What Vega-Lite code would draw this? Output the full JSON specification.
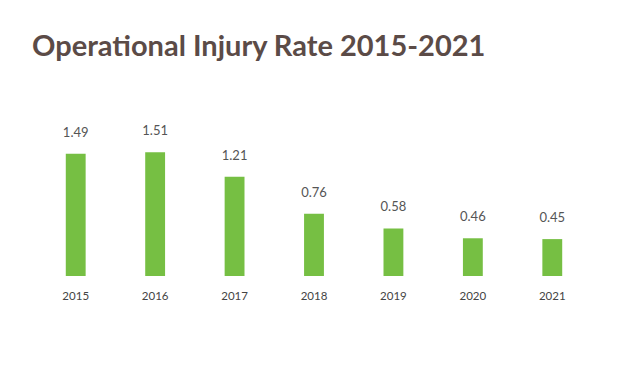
{
  "$schema": "https://vega.github.io/schema/vega-lite/v6.json",
  "width": 556,
  "height": 176,
  "autosize": {"type": "none"},
  "padding": {"left": 36, "top": 100, "right": 40, "bottom": 94},
  "background": "white",
  "title": {
    "text": "Operational Injury Rate 2015-2021",
    "anchor": "start",
    "frame": "group",
    "font": "Lato",
    "fontSize": 29,
    "fontWeight": "bold",
    "color": "#5b4b47",
    "dx": -4,
    "offset": 38
  },
  "data": {
    "values": [
      {"year": "2015", "rate": 1.49},
      {"year": "2016", "rate": 1.51},
      {"year": "2017", "rate": 1.21},
      {"year": "2018", "rate": 0.76},
      {"year": "2019", "rate": 0.58},
      {"year": "2020", "rate": 0.46},
      {"year": "2021", "rate": 0.45}
    ]
  },
  "encoding": {
    "x": {
      "field": "year",
      "type": "ordinal",
      "scale": {"paddingInner": 0.75, "paddingOuter": 0.375},
      "axis": {
        "title": null,
        "domain": false,
        "ticks": false,
        "labelAngle": 0,
        "labelFont": "Lato",
        "labelFontSize": 11.5,
        "labelColor": "#444444",
        "labelPadding": 14
      }
    },
    "y": {
      "field": "rate",
      "type": "quantitative",
      "scale": {"domain": [0, 2.146]},
      "axis": null
    }
  },
  "layer": [
    {"mark": {"type": "bar", "color": "#76bf43"}},
    {
      "mark": {"type": "text", "baseline": "bottom", "dy": -14, "font": "Lato", "fontSize": 13, "color": "#555555"},
      "encoding": {"text": {"field": "rate", "type": "quantitative", "format": ".2f"}}
    }
  ],
  "config": {"view": {"stroke": null}}
}
